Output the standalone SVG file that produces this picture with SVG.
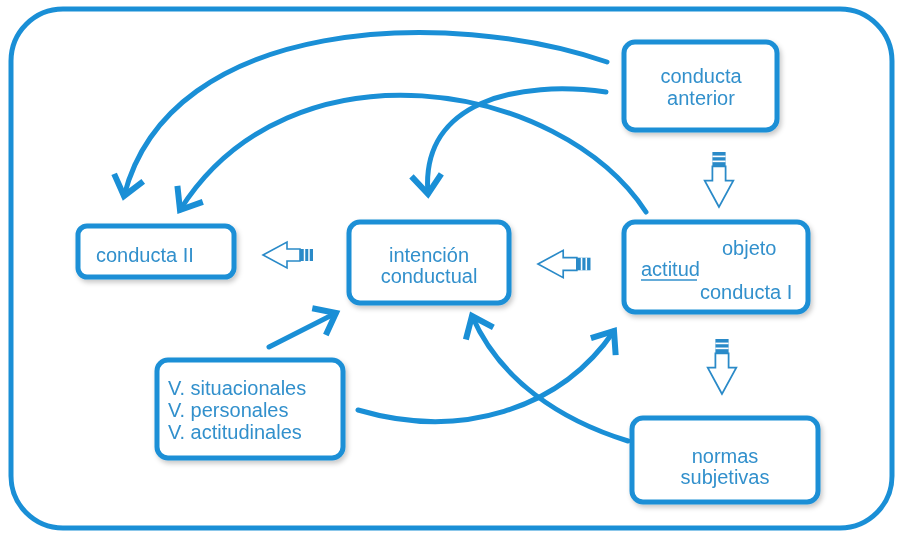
<svg xmlns="http://www.w3.org/2000/svg" width="904" height="537" viewBox="0 0 904 537">
<defs>
<style>
.box{fill:#fff;stroke:#1a8fd6;stroke-width:5}
.t{font-family:"Liberation Sans",Arial,sans-serif;font-size:20px;fill:#3290cc}
.c{fill:none;stroke:#1a8fd6;stroke-width:5;stroke-linecap:round}
.ha{fill:#fff;stroke:#2a8ac8;stroke-width:1.6;stroke-linejoin:miter}
</style>
<filter id="sh" x="-20%" y="-20%" width="140%" height="140%">
<feDropShadow dx="2" dy="3" stdDeviation="2.5" flood-color="#000" flood-opacity="0.22"/>
</filter>
<marker id="ah" markerUnits="userSpaceOnUse" markerWidth="50" markerHeight="50" viewBox="-30 -25 50 50" refX="0" refY="0" orient="auto">
<path d="M -19 -15 L 0 0 L -19 15" fill="none" stroke="#1a8fd6" stroke-width="6" stroke-linecap="butt" stroke-linejoin="miter"/>
</marker>
<g id="hollow">
<polygon class="ha" points="0,0 24,-13 24,-6 37,-6 37,6 24,6 24,13"/>
<rect x="37" y="-6" width="13" height="12" fill="#2a8ac8"/>
<line x1="41.5" y1="-6" x2="41.5" y2="6" stroke="#fff" stroke-width="1.5"/>
<line x1="46" y1="-6" x2="46" y2="6" stroke="#fff" stroke-width="1.5"/>
</g>
</defs>
<rect width="904" height="537" fill="#fff"/>
<rect x="11" y="9" width="881" height="519" rx="52" fill="none" stroke="#1a8fd6" stroke-width="5"/>

<g id="connectors">
<path class="c" d="M 607 62 C 450 8, 170 15, 124 196" marker-end="url(#ah)"/>
<path class="c" d="M 646 212 C 560 80, 290 35, 180 210" marker-end="url(#ah)"/>
<path class="c" d="M 606 92 C 520 80, 420 100, 428 194" marker-end="url(#ah)"/>
<path class="c" d="M 269 347 L 336 313" marker-end="url(#ah)"/>
<path class="c" d="M 358 410 C 460 440, 560 410, 614 331" marker-end="url(#ah)"/>
<path class="c" d="M 628 441 C 560 420, 500 380, 472 316" marker-end="url(#ah)"/>
<use href="#hollow" transform="translate(263,255)"/>
<use href="#hollow" transform="translate(538,264) scale(1.05)"/>
<use href="#hollow" transform="translate(719,207) rotate(-90) scale(1.1)"/>
<use href="#hollow" transform="translate(722,394) rotate(-90) scale(1.1)"/>
</g>

<g id="conducta-anterior" filter="url(#sh)">
<rect class="box" x="624" y="42" width="153" height="88" rx="11"/>
<text class="t" x="701" y="83" text-anchor="middle">conducta</text>
<text class="t" x="701" y="105" text-anchor="middle">anterior</text>
</g>
<g id="conducta-II" filter="url(#sh)">
<rect class="box" x="78" y="226" width="156" height="51" rx="9"/>
<text class="t" x="96" y="262">conducta II</text>
</g>
<g id="intencion" filter="url(#sh)">
<rect class="box" x="349" y="222" width="160" height="81" rx="11"/>
<text class="t" x="429" y="262" text-anchor="middle">intención</text>
<text class="t" x="429" y="283" text-anchor="middle">conductual</text>
</g>
<g id="actitud" filter="url(#sh)">
<rect class="box" x="624" y="222" width="184" height="90" rx="11"/>
<text class="t" x="722" y="255">objeto</text>
<text class="t" x="641" y="276">actitud</text>
<line x1="641" y1="280" x2="697" y2="280" stroke="#3290cc" stroke-width="1.4"/>
<text class="t" x="700" y="299">conducta I</text>
</g>
<g id="variables" filter="url(#sh)">
<rect class="box" x="157" y="360" width="186" height="98" rx="11"/>
<text class="t" x="168" y="395">V. situacionales</text>
<text class="t" x="168" y="417">V. personales</text>
<text class="t" x="168" y="439">V. actitudinales</text>
</g>
<g id="normas" filter="url(#sh)">
<rect class="box" x="632" y="418" width="186" height="84" rx="11"/>
<text class="t" x="725" y="463" text-anchor="middle">normas</text>
<text class="t" x="725" y="484" text-anchor="middle">subjetivas</text>
</g>
</svg>
